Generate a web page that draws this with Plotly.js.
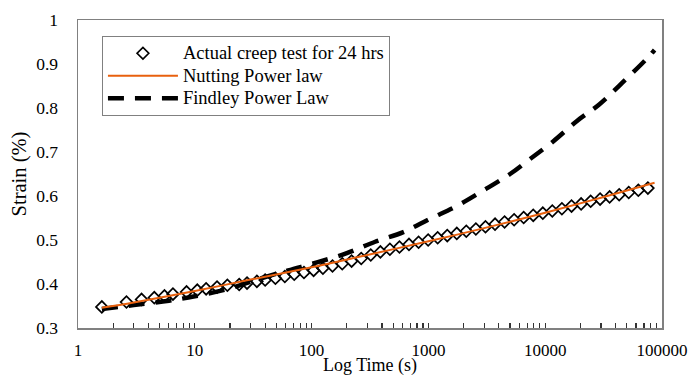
<!DOCTYPE html>
<html>
<head>
<meta charset="utf-8">
<script src="https://cdn.plot.ly/plotly-3.0.1.min.js"></script>
<style>html,body{margin:0;padding:0;background:#fff;}#chart{width:692px;height:376px;}</style>
</head>
<body>
<div id="chart"></div>
<script>
// Actual creep test data (time in s, strain in %)
var testTime = [1.6, 2.6, 3.5, 4.5, 5.5, 6.5, 8.5, 10.5, 12.5, 15.5, 19,
  24, 28, 34, 40, 49, 59, 71, 86, 104, 125, 151, 183, 220, 266, 321, 388, 468, 565, 682, 824, 995,
  1200, 1450, 1750, 2110, 2550, 3080, 3720, 4490, 5420, 6540, 7900, 9540,
  11500, 13900, 16800, 20300, 24500, 29500, 35600, 43000, 51900, 62700, 75700];
var testStrain = [0.348, 0.359, 0.365, 0.369, 0.373, 0.377, 0.382, 0.386, 0.389, 0.393, 0.397,
  0.399, 0.402, 0.406, 0.409, 0.413, 0.417, 0.422, 0.426, 0.431, 0.436, 0.441, 0.446, 0.452, 0.458, 0.466, 0.473, 0.479, 0.484, 0.490, 0.495, 0.500,
  0.505, 0.510, 0.515, 0.520, 0.525, 0.530, 0.536, 0.541, 0.546, 0.551, 0.556, 0.561,
  0.566, 0.571, 0.577, 0.582, 0.588, 0.593, 0.598, 0.603, 0.608, 0.613, 0.618];

// Nutting power law fit
var nuttingTime = [1.6, 3, 10, 30, 100, 300, 1000, 3000, 10000, 30000, 86400];
var nuttingStrain = [0.346, 0.358, 0.384, 0.410, 0.438, 0.466, 0.497, 0.527, 0.562, 0.596, 0.630];

// Findley power law fit
var findleyTime = [1.6, 3, 6, 10, 20, 36, 63, 111, 200, 350, 610, 1030, 1770, 2930, 5000, 7400, 11700, 18600, 29000, 46000, 74000, 86400];
var findleyStrain = [0.343, 0.352, 0.362, 0.372, 0.390, 0.412, 0.431, 0.449, 0.470, 0.496, 0.518, 0.548, 0.578, 0.612, 0.650, 0.684, 0.724, 0.770, 0.808, 0.858, 0.912, 0.932];

var seriesNames = ['Actual creep test for 24 hrs', 'Nutting Power law', 'Findley Power Law'];
// x ticks: decades labelled, intermediate (2..9) ticks unlabelled
var xTickVals = [1, 2, 3, 4, 5, 6, 7, 8, 9,
  10, 20, 30, 40, 50, 60, 70, 80, 90,
  100, 200, 300, 400, 500, 600, 700, 800, 900,
  1000, 2000, 3000, 4000, 5000, 6000, 7000, 8000, 9000,
  10000, 20000, 30000, 40000, 50000, 60000, 70000, 80000, 90000, 100000];
var xTickText = ['1', '', '', '', '', '', '', '', '',
  '10', '', '', '', '', '', '', '', '',
  '100', '', '', '', '', '', '', '', '',
  '1000', '', '', '', '', '', '', '', '',
  '10000', '', '', '', '', '', '', '', '', '100000'];
var yTickVals = [0.3, 0.4, 0.5, 0.6, 0.7, 0.8, 0.9, 1];
var yTickText = ['0.3', '0.4', '0.5', '0.6', '0.7', '0.8', '0.9', '1'];

var FONT = 'Liberation Serif, Times New Roman, serif';
function legendLabel(s) { return '<span style="font-size:18.5px">' + s + '</span>'; }

var traces = [
  {x: testTime, y: testStrain, name: legendLabel(seriesNames[0]), type: 'scatter', mode: 'markers', legendrank: 1,
   marker: {symbol: 'diamond-open', size: 9, color: '#000', line: {width: 1.7, color: '#000'}}},
  {x: findleyTime, y: findleyStrain, name: legendLabel(seriesNames[2]), type: 'scatter', mode: 'lines', legendrank: 3,
   line: {color: '#000', width: 4.5, dash: '16px,11px', shape: 'spline'}},
  {x: nuttingTime, y: nuttingStrain, name: legendLabel(seriesNames[1]), type: 'scatter', mode: 'lines', legendrank: 2,
   line: {color: '#E8600E', width: 2, shape: 'spline'}}
];

var layout = {
  width: 692, height: 376,
  margin: {l: 78, r: 30, t: 20, b: 48},
  paper_bgcolor: '#fff', plot_bgcolor: '#fff',
  font: {family: FONT, size: 17, color: '#000'},
  showlegend: true,
  legend: {x: 0.041, y: 0.948, xanchor: 'left', yanchor: 'top', bgcolor: '#fff',
    bordercolor: '#808080', borderwidth: 1, font: {family: FONT, size: 15, color: '#000'},
    itemwidth: 70, tracegroupgap: 0},
  xaxis: {type: 'log', range: [0, 5], tickmode: 'array', tickvals: xTickVals, ticktext: xTickText,
    showgrid: false, zeroline: false, showline: true, mirror: true, linecolor: '#808080', linewidth: 1.5,
    ticks: 'inside', ticklen: 5, tickwidth: 1.2, tickcolor: '#333333', ticklabelstandoff: 6,
    tickfont: {family: FONT, size: 17, color: '#000'},
    title: {text: 'Log Time (s)', font: {family: FONT, size: 18, color: '#000'}, standoff: 4}},
  yaxis: {range: [0.3, 1], tickmode: 'array', tickvals: yTickVals, ticktext: yTickText,
    showgrid: false, zeroline: false, showline: true, mirror: true, linecolor: '#808080', linewidth: 1.5,
    ticks: '', ticklabelstandoff: 15,
    tickfont: {family: FONT, size: 17.5, color: '#000'},
    title: {text: 'Strain (%)', font: {family: FONT, size: 20.5, color: '#000'}, standoff: 4}}
};

Plotly.newPlot('chart', traces, layout, {displayModeBar: false, staticPlot: true});
</script>
</body>
</html>
